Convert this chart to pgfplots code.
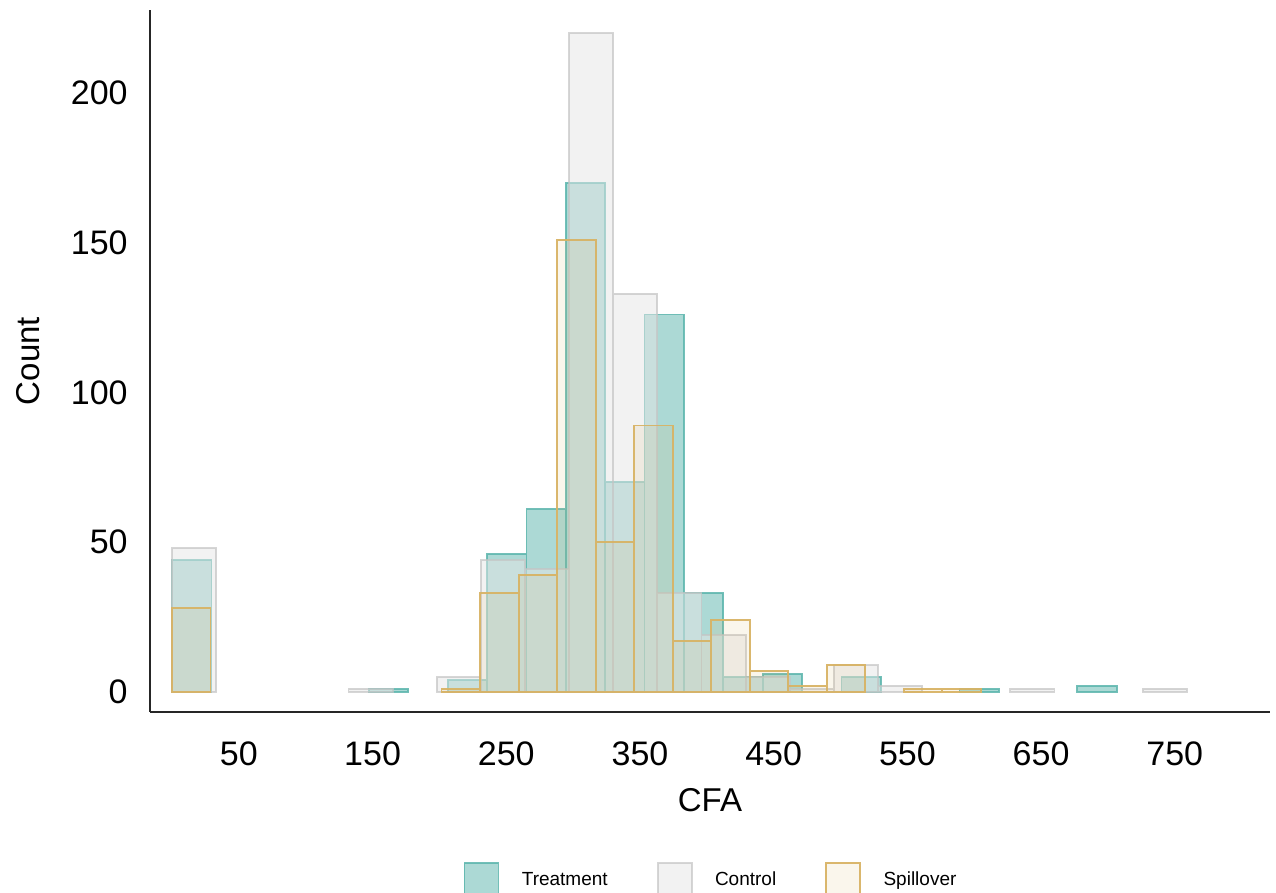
\documentclass[border=0pt]{standalone}
\usepackage{pgfplots}
\pgfplotsset{compat=1.18}
\usepackage{fontspec}
\setmainfont{Liberation Sans}
\definecolor{trt}{HTML}{5AB4AC}
\definecolor{ctl}{HTML}{E6E6E6}
\definecolor{ctlline}{HTML}{C4C4C4}
\definecolor{spl}{HTML}{D8B365}
\begin{document}
\begin{tikzpicture}
\begin{axis}[
  at={(0,0)}, anchor=south west,
  scale only axis, width=560pt, height=351pt,
  xmin=-16.5, xmax=821.2, ymin=-6.68, ymax=227.7,
  axis lines=left,
  axis line style={line width=0.75pt, draw=black!85, -},
  xtick={50,150,...,750}, ytick={0,50,...,200},
  major tick length=0pt, tick style={draw=none},
  /pgf/number format/assume math mode=true,
  ticklabel style={font=\fontsize{17}{20}\selectfont},
  yticklabel style={anchor=east, inner sep=0pt, xshift=-11pt},
  xticklabel style={anchor=north, inner sep=0pt, yshift=-14.5pt},
  xlabel={CFA}, ylabel={Count},
  every axis x label/.style={at={(axis description cs:0.5,0)}, anchor=center, yshift=-44pt, font=\fontsize{16.5}{19}\selectfont},
  every axis y label/.style={at={(axis description cs:-0.1089,0.5)}, anchor=center, rotate=90, font=\fontsize{16.5}{19}\selectfont},
  legend columns=3,
  legend style={draw=none, fill=none, at={(axis description cs:0.5,-0.2393)}, anchor=center,
    font=\fontsize{9.5}{11}\selectfont, nodes={inner sep=0pt},
    /tikz/every even column/.append style={column sep=24.5pt}},
]
% Treatment
\addplot[ybar, bar width=29.45, bar shift=0pt, fill=trt, fill opacity=0.5, draw=trt, draw opacity=0.85, line width=0.9pt, forget plot] coordinates {
(14.725,44) (161.975,1) (220.875,4) (250.325,46) (279.775,61) (309.225,170) (338.675,70) (368.125,126) (397.575,33) (427.025,5) (456.475,6) (515.375,5) (603.725,1) (691.8,2)
};
% Control
\addplot[ybar, bar width=33, bar shift=0pt, fill=ctl, fill opacity=0.5, draw=ctlline, draw opacity=0.7, line width=0.9pt, forget plot] coordinates {
(16.5,48) (148.5,1) (214.5,5) (247.5,44) (280.5,41) (313.5,220) (346.5,133) (379.5,33) (412.5,19) (445.5,5) (478.5,1) (511.5,9) (544.5,2) (643.5,1) (742.5,1)
};
% Spillover
\addplot[ybar, bar width=28.8, bar shift=0pt, fill=spl, fill opacity=0.12, draw=spl, draw opacity=0.95, line width=0.9pt, forget plot] coordinates {
(14.4,28) (216,1) (244.8,33) (273.6,39) (302.4,151) (331.2,50) (360,89) (388.8,17) (417.6,24) (446.4,7) (475.2,2) (504,9) (561.6,1) (590.4,1)
};
\addlegendimage{legend image code/.code={\draw[fill=trt, fill opacity=0.5, draw=trt, draw opacity=0.85, line width=0.9pt] (0pt,-8.5pt) rectangle (17pt,8.5pt); \path (28.5pt,0pt);}}
\addlegendentry{Treatment}
\addlegendimage{legend image code/.code={\draw[fill=ctl, fill opacity=0.5, draw=ctlline, draw opacity=0.7, line width=0.9pt] (0pt,-8.5pt) rectangle (17pt,8.5pt); \path (28.5pt,0pt);}}
\addlegendentry{Control}
\addlegendimage{legend image code/.code={\draw[fill=spl, fill opacity=0.12, draw=spl, draw opacity=0.95, line width=0.9pt] (0pt,-8.5pt) rectangle (17pt,8.5pt); \path (28.5pt,0pt);}}
\addlegendentry{Spillover}
\end{axis}
\pgfresetboundingbox
\path[use as bounding box] (-75pt,-90.5pt) rectangle (563pt,356pt);
\end{tikzpicture}
\end{document}
